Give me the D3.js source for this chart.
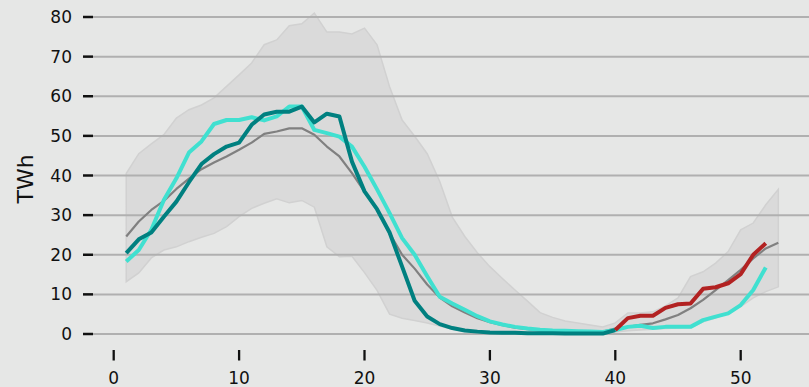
<!DOCTYPE html>
<html>
<head>
<meta charset="utf-8">
<script src="https://cdn.jsdelivr.net/npm/d3@7"></script>
<style>
  html, body { margin: 0; padding: 0; background: #e6e7e6; }
  svg { display: block; }
  text { font-family: "DejaVu Sans", sans-serif; }
</style>
</head>
<body>
<svg id="chart" width="809" height="387"></svg>
<script>
// ---- data ----
const weeks = [1,2,3,4,5,6,7,8,9,10,11,12,13,14,15,16,17,18,19,20,21,22,23,24,25,26,27,28,29,30,31,32,33,34,35,36,37,38,39,40,41,42,43,44,45,46,47,48,49,50,51,52,53];
const bandMax = [40.5,45.5,48,50.3,54.5,56.6,57.8,59.6,62.5,65.4,
                 68.4,73,74.2,77.8,78.3,81,76.2,76.2,75.7,77.2,
                 73,62.4,54,49.9,45.5,38.5,29.5,24.6,20.5,17,
                 14,11.1,8.3,5.4,4.2,3.3,2.8,2.3,1.8,2.8,
                 5.3,5.3,5.6,7.1,9.1,14.5,15.7,17.9,20.8,26.3,
                 28,32.6,36.5];
const bandMin = [13.2,15.4,19.2,21.2,22,23.3,24.4,25.4,27.1,29.6,
                 31.7,33,34.1,33.1,33.7,32,22,19.5,19.6,15.5,
                 11,5,4,3.4,2.8,2,1.2,0.6,0.4,0.3,
                 0.2,0.2,0.1,0.1,0.1,0.1,0.1,0.1,0.1,0.5,
                 0.8,1.0,1.2,1.4,1.5,1.6,3.1,4,5.3,6.9,
                 9.1,10.7,11.9];
const meanVals = [24.6,28.4,31.3,33.6,36.6,39.2,41.6,43.3,44.8,46.5,
                  48.3,50.5,51.1,51.9,51.9,50.3,47.3,44.8,40.6,35.9,
                  31.3,25.4,20,16.5,12.5,9.2,7,5.4,4,3,
                  2.2,1.6,1.2,0.9,0.7,0.5,0.4,0.4,0.6,1.4,
                  1.8,2.3,2.7,3.7,4.8,6.5,8.6,11.1,13.6,16.2,
                  19.1,21.6,23];
const turqWeeks = weeks.slice(0, 52);
const turqVals = [18.3,21.2,26.3,33.8,39.3,45.8,48.6,53,54,54,
                  54.7,53.9,54.9,57.4,57.4,51.5,50.7,49.8,47.3,42.2,
                  36.5,30.5,24.2,20,14.6,9.4,7.7,6.1,4.5,3.2,
                  2.4,1.8,1.4,1.1,0.9,0.8,0.7,0.6,0.5,1.0,
                  1.8,2.1,1.5,1.8,1.8,1.8,3.5,4.4,5.2,7.3,
                  11.1,16.8];
const tealWeeks = weeks.slice(0, 40);
const tealVals = [20.4,23.9,25.6,29.6,33.4,38.3,42.9,45.4,47.3,48.3,
                  52.8,55.4,56.1,56.1,57.4,53.4,55.6,54.9,43.5,36,
                  31.5,25.6,17,8.4,4.4,2.5,1.5,0.9,0.6,0.4,
                  0.3,0.3,0.2,0.2,0.2,0.1,0.1,0.1,0.1,1.0];
const redWeeks = weeks.slice(39, 52);
const redVals = [1.0,4.0,4.6,4.6,6.6,7.5,7.7,11.4,11.8,12.8,15.1,20,22.9];
const xTicks = [0,10,20,30,40,50];
const yTicks = [0,10,20,30,40,50,60,70,80];
const yLabel = "TWh";

// ---- drawing ----
const svg = d3.select("#chart");
const W = 809, H = 387;
svg.append("rect").attr("width", W).attr("height", H).attr("fill", "#e6e7e6");

const x = d3.scaleLinear().domain([0, 50]).range([113.7, 740.7]);
const y = d3.scaleLinear().domain([0, 80]).range([334, 17]);
const gridLeft = 93, gridRight = W;

// band
const band = weeks.map((w, i) => ({w, lo: bandMin[i], hi: bandMax[i]}));
svg.append("path")
  .datum(band)
  .attr("d", d3.area().x(d => x(d.w)).y0(d => y(d.lo)).y1(d => y(d.hi)))
  .attr("fill", "#dadada")
  .attr("stroke", "#d1d1d1")
  .attr("stroke-width", 1.5);

// y grid + ticks
const yg = svg.append("g");
yTicks.forEach(t => {
  yg.append("line")
    .attr("x1", gridLeft).attr("x2", gridRight)
    .attr("y1", y(t)).attr("y2", y(t))
    .attr("stroke", "#b0b0b0").attr("stroke-width", 2);
  yg.append("line")
    .attr("x1", 83).attr("x2", gridLeft)
    .attr("y1", y(t)).attr("y2", y(t))
    .attr("stroke", "#111").attr("stroke-width", 2.5);
  yg.append("text")
    .attr("x", 72).attr("y", y(t))
    .attr("dy", "0.36em")
    .attr("text-anchor", "end")
    .attr("font-size", 17)
    .attr("fill", "#111")
    .text(t);
});

// x ticks
const xg = svg.append("g");
xTicks.forEach(t => {
  xg.append("line")
    .attr("x1", x(t)).attr("x2", x(t))
    .attr("y1", 350).attr("y2", 360.5)
    .attr("stroke", "#111").attr("stroke-width", 2.3);
  xg.append("text")
    .attr("x", x(t)).attr("y", 384)
    .attr("text-anchor", "middle")
    .attr("font-size", 17)
    .attr("fill", "#111")
    .text(t);
});

// y label
svg.append("text")
  .attr("transform", "translate(33,179) rotate(-90)")
  .attr("text-anchor", "middle")
  .attr("font-size", 22)
  .attr("fill", "#111")
  .text(yLabel);

// lines
const line = d3.line().x(d => x(d[0])).y(d => y(d[1]));
function drawLine(ws, vs, color, width) {
  svg.append("path")
    .datum(ws.map((w, i) => [w, vs[i]]))
    .attr("d", line)
    .attr("fill", "none")
    .attr("stroke", color)
    .attr("stroke-width", width)
    .attr("stroke-linejoin", "round");
}
drawLine(weeks, meanVals, "#808080", 2.2);
drawLine(turqWeeks, turqVals, "#40e0d0", 4);
drawLine(tealWeeks, tealVals, "#008080", 4);
drawLine(redWeeks, redVals, "#b22222", 4);
</script>
</body>
</html>
